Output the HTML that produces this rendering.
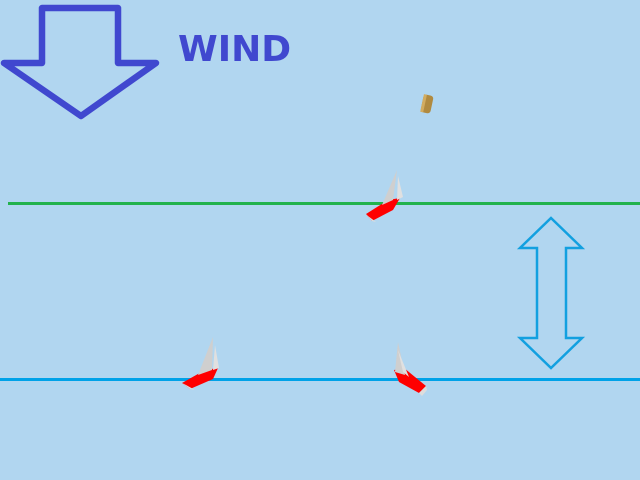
<!DOCTYPE html>
<html><head><style>body{margin:0;background:#b0d5ef;}svg{display:block}</style></head><body>
<svg width="640" height="480" xmlns="http://www.w3.org/2000/svg">
<rect width="640" height="480" fill="#b1d6f0"/>
<path d="M42,8 L118,8 L118,63 L156,63 L81,116 L4,63 L42,63 Z" fill="none" stroke="#4048cf" stroke-width="6.5" stroke-linejoin="round"/>
<text x="178" y="61" font-family="DejaVu Sans, sans-serif" font-weight="bold" font-size="36" fill="#4048cf">WIND</text>
<line x1="8" y1="203.5" x2="640" y2="203.5" stroke="#22b24c" stroke-width="3"/>
<line x1="0" y1="379.5" x2="640" y2="379.5" stroke="#00a2e8" stroke-width="3"/>
<path d="M551,218 L582,248 L566,248 L566,338 L582,338 L551,368 L520,338 L537,338 L537,248 L520,248 Z" fill="none" stroke="#12a0e0" stroke-width="2.5" stroke-linejoin="miter"/>
<g transform="translate(427,104) rotate(12)"><rect x="-5" y="-9" width="10" height="18" rx="3" fill="#b08a40"/><rect x="-5" y="-9" width="3" height="18" fill="#d2ac60"/></g>
<g>
<path d="M366,214 L388,200 L400,198 L393,210 L372,221 Z" fill="#ff0000"/>
<path d="M366,214 L372,221 L376,222 L368,216 Z" fill="#ddd"/>
<path d="M397,170 L382,205 L393,200 Z" fill="#cfcfcf"/>
<path d="M398,176 L403,197 L397,200 Z" fill="#e0e0e0"/>
</g>
<g>
<path d="M182,383 L205,370 L218,368 L213,379 L190,389 Z" fill="#ff0000"/>
<path d="M182,383 L190,389 L195,390 L186,385 Z" fill="#ddd"/>
<path d="M213,337 L198,375 L212,370 Z" fill="#cfcfcf"/>
<path d="M215,345 L219,368 L213,370 Z" fill="#e0e0e0"/>
</g>
<g>
<path d="M394,370 L404,368 L426,386 L419,393 L399,382 Z" fill="#ff0000"/>
<path d="M419,393 L426,386 L427,390 L422,396 Z" fill="#ddd"/>
<path d="M398,342 L395,372 L405,375 Z" fill="#cfcfcf"/>
<path d="M398,350 L403,372 L409,377 Z" fill="#e0e0e0"/>
</g>
</svg>
</body></html>
